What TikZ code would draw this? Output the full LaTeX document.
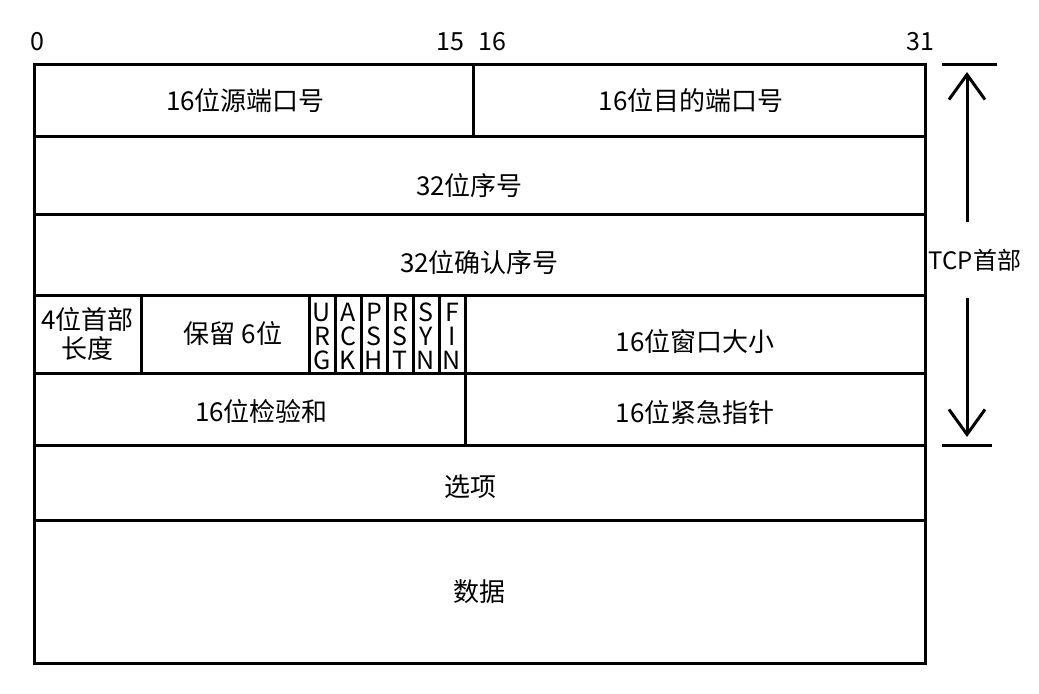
\documentclass[tikz,border=0pt]{standalone}
\usepackage{fontspec}
\setmainfont{Noto Sans CJK SC}
\usetikzlibrary{arrows.meta,positioning}
\newcommand{\fieldbox}[5][]{\node[field,minimum width=#3,minimum height=#4,#1] (#2) {#5};}

\begin{document}
\begin{tikzpicture}[x=0.5pt,y=-0.5pt,node distance=0pt and 0pt,>={Straight Barb[length=12.5pt,width=18pt]},
  field/.style={draw,line width=1.5pt,inner sep=0pt,outer sep=0pt,align=center,font=\fontsize{13pt}{14.5pt}\selectfont},
  flag/.style={field,minimum width=13pt,minimum height=39pt,text height=35pt,text depth=0pt,font=\fontsize{12.5pt}{12pt}\selectfont},
  bitno/.style={font=\fontsize{12.5pt}{15pt}\selectfont,inner sep=0pt}]
\useasboundingbox (0,0) rectangle (1039,693);
\node[bitno] (bit0) at (37.5,42) {0};
\node[bitno] (bit15) at (450,42) {15};
\node[bitno] (bit16) at (492,42) {16};
\node[bitno] (bit31) at (920,42) {31};
\fieldbox[anchor=north west,at={(34,64)},text height=10.5pt,text depth=0pt]{src}{219.5pt}{36pt}{16位源端口号\hspace*{8pt}}
\fieldbox[right=of src,text height=10.5pt,text depth=0pt]{dst}{226pt}{36pt}{16位目的端口号\hspace*{8pt}}
\fieldbox[below right=of src.south west,text height=20.5pt,text depth=0pt]{seq}{445.5pt}{39pt}{32位序号\hspace*{10pt}}
\fieldbox[below right=of seq.south west,text height=17.5pt,text depth=0pt]{ack}{445.5pt}{40.5pt}{32位确认序号}
\fieldbox[below right=of ack.south west]{hlen}{53.5pt}{39pt}{4位首部\\长度}
\fieldbox[right=of hlen]{resv}{84pt}{39pt}{\hspace*{8pt}保留 6位}
\node[flag,right=of resv] (urg) {U\\R\\G};
\node[flag,right=of urg] (ackf) {A\\C\\K};
\node[flag,right=of ackf] (psh) {P\\S\\H};
\node[flag,right=of psh] (rst) {R\\S\\T};
\node[flag,right=of rst] (syn) {S\\Y\\N};
\node[flag,right=of syn] (fin) {F\\I\\N};
\fieldbox[right=of fin,text height=17pt,text depth=0pt]{win}{230pt}{39pt}{16位窗口大小}
\fieldbox[below right=of hlen.south west,text height=12.5pt,text depth=0pt]{chk}{215.5pt}{36pt}{\hspace*{12pt}16位检验和}
\fieldbox[right=of chk,text height=13.5pt,text depth=0pt]{urgp}{230pt}{36pt}{16位紧急指针}
\fieldbox[below right=of chk.south west,text height=14pt,text depth=0pt]{opt}{445.5pt}{37.5pt}{选项\hspace*{9pt}}
\fieldbox[below right=of opt.south west,text height=10pt,text depth=0pt]{data}{445.5pt}{71.5pt}{数据}
\node[font=\fontsize{12pt}{15pt}\selectfont,minimum height=38pt,inner sep=0pt] (tcphd) at (975,260) {TCP首部};
\coordinate (hdtop) at (967,64);
\coordinate (hdbot) at (967,445);
\draw[line width=1.5pt] ([xshift=-12.5pt]hdtop) -- ([xshift=15pt]hdtop);
\draw[line width=1.5pt] ([xshift=-12.5pt]hdbot) -- ([xshift=12.5pt]hdbot);
\draw[->,line width=1.5pt,shorten >=4pt] (tcphd.north -| hdtop) -- (hdtop);
\draw[->,line width=1.5pt,shorten >=4pt] (tcphd.south -| hdbot) -- (hdbot);
\end{tikzpicture}
\end{document}
